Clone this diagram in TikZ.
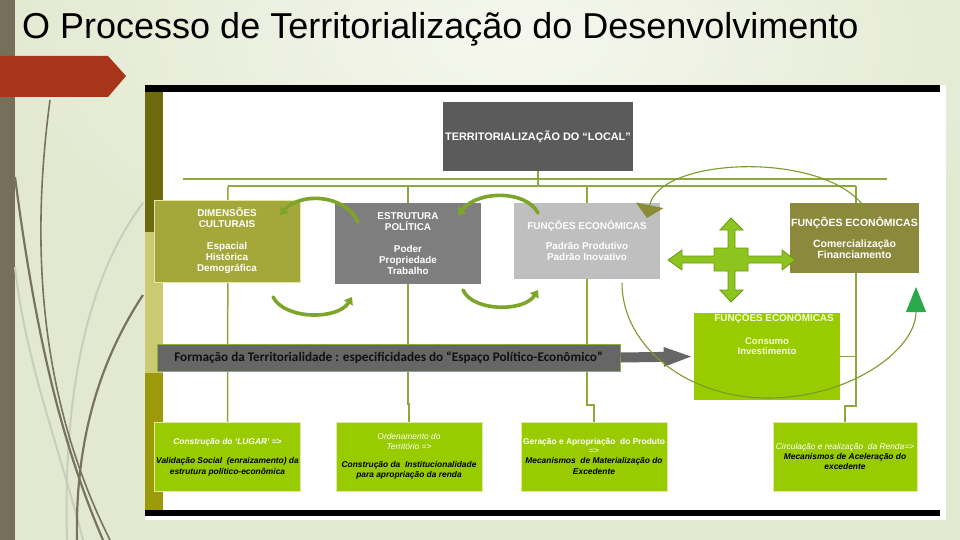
\documentclass[tikz,border=0pt]{standalone}
\usepackage{fontspec}
\usepackage{graphicx}
\setmainfont{Liberation Sans}
\newfontfamily\carlfont{Carlito}
\usetikzlibrary{arrows.meta}
\pgfdeclarelayer{base}
\pgfdeclarelayer{wires}
\pgfdeclarelayer{front}
\pgfsetlayers{base,wires,main,front}
\definecolor{bg}{HTML}{E3E9D1}
\definecolor{bglight}{HTML}{F5F7EE}
\definecolor{leftbar}{HTML}{76705A}
\definecolor{redtab}{HTML}{A8341A}
\definecolor{deco}{HTML}{7A7260}
\definecolor{decolight}{HTML}{C9CDBE}
\definecolor{stripdark}{HTML}{6C6A0C}
\definecolor{striplight}{HTML}{CACA72}
\definecolor{stripolive}{HTML}{9C9A0A}
\definecolor{darkbox}{HTML}{5B5B5B}
\definecolor{olivebox}{HTML}{A4A73A}
\definecolor{graybox}{HTML}{7E7E7E}
\definecolor{lightgraybox}{HTML}{BFBFBF}
\definecolor{darkolivebox}{HTML}{8B8A3C}
\definecolor{limebox}{HTML}{99CC00}
\definecolor{paleedge}{HTML}{E3E8A2}
\definecolor{busgreen}{HTML}{8FA83C}
\definecolor{arrowgreen}{HTML}{7CA52A}
\definecolor{crossfill}{HTML}{8DC41F}
\definecolor{crossedge}{HTML}{6A9A12}
\definecolor{barfill}{HTML}{666666}
\definecolor{baredge}{HTML}{8EB03A}
\definecolor{ellgreen}{HTML}{7D9A2A}
\definecolor{tgreen}{HTML}{2BA84A}
\definecolor{olivetri}{HTML}{8A8C38}
\definecolor{bartext}{HTML}{101010}
\begin{document}
\begin{tikzpicture}[x=1pt,y=-1pt,
  box/.style={rectangle, inner sep=1pt, align=center, text=white,
    font=\fontsize{9.9}{11}\selectfont\bfseries},
  lowbox/.style={rectangle, fill=limebox, draw=paleedge, line width=0.8pt, inner sep=1pt,
    align=center, minimum width=146pt, minimum height=69pt,
    font=\fontsize{8.4}{10.4}\selectfont\bfseries\itshape},
  bus/.style={draw=busgreen, line width=1.5pt},
  carrow/.style={draw=arrowgreen, line width=3.6pt, line cap=round,
    -{Triangle[width=10pt,length=7pt]}},
  ell/.style={draw=ellgreen, line width=1.1pt},
  deco1/.style={draw=deco, line width=2.2pt},
  deco2/.style={draw=decolight, line width=2pt}]
\useasboundingbox (0,0) rectangle (960,540);
\begin{pgfonlayer}{base}
% background
\fill[bg] (0,0) rectangle (960,540);
\shade[inner color=bglight, outer color=bg] (520,40) ellipse [x radius=520pt, y radius=260pt];
\fill[leftbar] (0,0) rectangle (15,540);
% decorative strokes
\draw[deco2] (143,203) .. controls (100,260) and (62,360) .. (67,540);
\draw[deco2] (15,267) .. controls (25,360) and (60,450) .. (83,540);
\draw[deco1, line width=1.6pt] (50,100) .. controls (30,250) and (40,400) .. (110,540);
\draw[deco1] (15,177) .. controls (35,330) and (60,440) .. (103,540);
\draw[deco1] (143,295) .. controls (100,360) and (75,440) .. (77,540);
% red tab
\fill[redtab] (0,56) -- (108,56) -- (126,76) -- (108,97) -- (0,97) -- cycle;
% picture frame
\fill[white] (145,85) rectangle (946,520);
\fill[black] (145,85) rectangle (940,92);
\fill[black] (145,510) rectangle (940,516);
\fill[stripdark] (145,92) rectangle (163,232);
\fill[striplight] (145,232) rectangle (163,373);
\fill[stripolive] (145,373) rectangle (163,510);
\end{pgfonlayer}
% title
\node[anchor=base west, inner sep=0pt, font=\fontsize{36}{40}\selectfont] (title) at (22,39)
  {O Processo de Territorialização do Desenvolvimento};
% bus coordinates
\coordinate (busAL) at (183,179);
\coordinate (busAR) at (887,179);
\coordinate (busL) at (228,186);
\coordinate (busR) at (856,186);
% boxes
\node[box, fill=darkbox, minimum width=190pt, minimum height=69pt, font=\fontsize{10.9}{12}\selectfont\bfseries] (top) at (538,136.5)
  {TERRITORIALIZAÇÃO DO “LOCAL”};
\node[box, fill=olivebox, draw=paleedge, line width=0.8pt, minimum width=146pt, minimum height=82pt] (dim) at (227,241)
  {DIMENSÕES\\CULTURAIS\\[11pt]Espacial\\Histórica\\Demográfica};
\node[box, fill=graybox, minimum width=146pt, minimum height=81pt] (estr) at (408,243.5)
  {ESTRUTURA\\POLÍTICA\\[11pt]Poder\\Propriedade\\Trabalho};
\node[box, fill=lightgraybox, minimum width=146pt, minimum height=76pt] (func1) at (587,241)
  {FUNÇÕES ECONÔMICAS\\[9pt]Padrão Produtivo\\Padrão Inovativo};
\node[box, fill=darkolivebox, minimum width=129pt, minimum height=70pt, font=\fontsize{10.5}{11.5}\selectfont\bfseries] (func2) at (854.5,238)
  {FUNÇÕES ECONÔMICAS\\[9pt]Comercialização\\Financiamento};
\node[rectangle, fill=limebox, minimum width=146pt, minimum height=87pt, inner sep=0pt] (cons) at (767,356.5) {};
\node[box, text=white!90!limebox] (consT) at (774,318.5) {FUNÇÕES ECONÔMICAS};
\node[box, text=white!90!limebox, font=\fontsize{9.5}{10.5}\selectfont\bfseries] (consB) at (767,346) {Consumo\\Investimento};
% formation bar
\node[rectangle, fill=barfill, draw=baredge, line width=1pt, minimum width=463pt, minimum height=27pt,
  text=bartext, font=\carlfont\fontsize{13.2}{14}\selectfont\bfseries] (bar) at (388.5,357.5)
  {Formação da Territorialidade : especificidades do “Espaço Político-Econômico”};
% lower boxes
\node[lowbox] (b1) at (227.5,457)
  {\textcolor{white}{Construção do ‘LUGAR’ =>}\\[9pt]Validação Social \ (enraizamento) da\\estrutura político-econômica};
\node[lowbox] (b2) at (409,456.5)
  {\textcolor{white}{\mdseries Ordenamento do}\\\textcolor{white}{\mdseries Território =>}\\[7pt]Construção da \ Institucionalidade\\para apropriação da renda};
\node[lowbox] (b3) at (594,456.5)
  {\textcolor{white}{\upshape Geração e Apropriação \ do Produto}\\[-2pt]\textcolor{white}{\upshape\mdseries =>}\\Mecanismos \ de Materialização do\\Excedente};
\node[lowbox, minimum width=144pt] (b4) at (845,456.5)
  {\textcolor{white}{\mdseries Circulação e realização \ da Renda=>}\\Mecanismos de Aceleração do\\excedente};
% wires (behind boxes)
\begin{pgfonlayer}{wires}
\draw[bus] (busAL) -- (busAR);
\draw[bus] (busL) -- (busR);
\draw[bus] (top.south) -- (top.south |- busL);
\draw[bus] (busL) -- (b1.north);
\draw[bus] (estr.north |- busL) -- ++(0,218) -| (b2.north);
\draw[bus] (func1.north |- busL) -- ++(0,219) -| (b3.north);
\draw[bus] (busR) -- ++(0,220) -| (b4.north);
\draw[bus] (cons.east) -- (cons.east -| busR);
\end{pgfonlayer}
% overlays
\begin{pgfonlayer}{front}
% grey arrow from the bar
\draw[draw=barfill, line width=10pt, -{Triangle[width=17pt,length=30pt]}] (bar.east) -- (cons.west);
% cross arrow
\draw[fill=crossfill, draw=crossedge, line width=0.8pt]
  (731,218) -- (743,230) -- (735,230) -- (735,248) -- (748,248) -- (748,256) -- (782,256) -- (782,250)
  -- (795,260) -- (782,270) -- (782,263) -- (748,263) -- (748,271) -- (735,271) -- (735,290)
  -- (743,290) -- (731,302) -- (720,290) -- (728,290) -- (728,271) -- (714,271) -- (714,263)
  -- (682,263) -- (682,270) -- (668,260) -- (682,250) -- (682,256) -- (714,256) -- (714,248)
  -- (728,248) -- (728,230) -- (720,230) -- cycle;
% ellipse arcs
\coordinate (uS) at (868,213);
\coordinate (uE) at (647,218);
\coordinate (lS) at (622,283);
\coordinate (lM) at (768,398);
\coordinate (lE) at (916,287);
\draw[ell, -{Triangle[width=28pt,length=13pt,color=olivetri]}] (uS) .. controls (835,150) and (660,155) .. (uE);
\draw[ell] (lS) .. controls (622,346) and (687,398) .. (lM);
\draw[ell, -{Triangle[width=20pt,length=25pt,color=tgreen]}] (lM) .. controls (850,398) and (916,350) .. (lE);
% small curved arrows
\coordinate (a1s) at (358,222); \coordinate (a1e) at (280,215);
\coordinate (a2s) at (538,213); \coordinate (a2e) at (458,215);
\coordinate (a3s) at (273,297); \coordinate (a3e) at (352,297);
\coordinate (a4s) at (463,290); \coordinate (a4e) at (538,290);
\draw[carrow] (a1s) .. controls (345,194) and (300,192) .. (a1e);
\draw[carrow] (a2s) .. controls (526,190) and (478,190) .. (a2e);
\draw[carrow] (a3s) .. controls (285,320) and (338,320) .. (a3e);
\draw[carrow] (a4s) .. controls (473,312) and (524,312) .. (a4e);
\end{pgfonlayer}
\end{tikzpicture}
\end{document}
